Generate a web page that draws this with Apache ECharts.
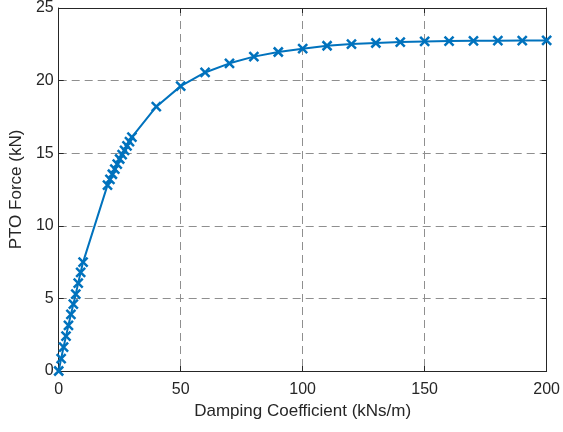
<!DOCTYPE html>
<html>
<head>
<meta charset="utf-8">
<script src="https://cdn.jsdelivr.net/npm/echarts@6/dist/echarts.min.js"></script>
<style>
html, body { margin: 0; padding: 0; background: #fff; }
#chart { width: 563px; height: 432px; }
</style>
</head>
<body>
<div id="chart"></div>
<script>
// damping coefficient (kNs/m)
const damping = [
    0, 1, 2, 3, 4, 5, 6, 7, 8, 9, 10,
    20, 21, 22, 23, 24, 25, 26, 27, 28, 29, 30,
    40, 50, 60, 70, 80, 90, 100, 110, 120, 130, 140, 150, 160, 170, 180, 190, 200
]
// PTO force (kN)
const ptoForce = [
    0, 0.85, 1.65, 2.4, 3.15, 3.9, 4.6, 5.3, 6.05, 6.8, 7.5,
    12.8, 13.2, 13.55, 13.9, 14.25, 14.6, 14.9, 15.2, 15.5, 15.8, 16.1,
    18.2, 19.62, 20.56, 21.19, 21.65, 21.97, 22.2, 22.4, 22.52, 22.59, 22.65, 22.7, 22.72, 22.74, 22.75, 22.76, 22.77
]

const COLOR = {
    blue: '#0072BD',
    axis: '#262626',
    grid: '#8f8f8f'
}
const FONT = '"Liberation Sans", Arial, sans-serif'

const chart = echarts.init(document.getElementById('chart'))

const axisCommon = {
    type: 'value',
    axisLine: { show: true, onZero: false, lineStyle: { color: COLOR.axis, width: 1 } },
    axisTick: { show: true, inside: true, length: 5, lineStyle: { color: COLOR.axis } },
    axisLabel: { color: COLOR.axis, fontSize: 16, fontFamily: FONT },
    splitLine: { show: true, lineStyle: { color: COLOR.grid, type: [8, 5], width: 1 } },
    nameLocation: 'middle',
    nameTextStyle: { color: COLOR.axis, fontSize: 17, fontFamily: FONT }
}

const option = {
    animation: false,
    grid: { left: 57, right: 15, top: 8, bottom: 61, containLabel: false },
    xAxis: [
        Object.assign({}, axisCommon, {
            min: 0, max: 200, interval: 50,
            name: 'Damping Coefficient (kNs/m)',
            nameGap: 31,
            axisLabel: Object.assign({}, axisCommon.axisLabel, { margin: 11 })
        }),
        // box top edge
        { type: 'value', position: 'top', min: 0, max: 200, interval: 50,
          axisLine: { show: true, onZero: false, lineStyle: { color: COLOR.axis } },
          axisTick: { show: true, inside: true, length: 5, lineStyle: { color: COLOR.axis } },
          axisLabel: { show: false }, splitLine: { show: false } }
    ],
    yAxis: [
        Object.assign({}, axisCommon, {
            min: 0, max: 25, interval: 5,
            name: 'PTO Force (kN)',
            nameGap: 32,
            axisLabel: Object.assign({}, axisCommon.axisLabel, { margin: 5 })
        }),
        // box right edge
        { type: 'value', position: 'right', min: 0, max: 25, interval: 5,
          axisLine: { show: true, onZero: false, lineStyle: { color: COLOR.axis } },
          axisTick: { show: true, inside: true, length: 5, lineStyle: { color: COLOR.axis } },
          axisLabel: { show: false }, splitLine: { show: false } }
    ],
    series: [{
        type: 'line',
        data: damping.map((d, i) => [d, ptoForce[i]]),
        lineStyle: { color: COLOR.blue, width: 2 },
        symbol: 'path://M0,0L10,10M10,0L0,10',
        symbolSize: 9,
        showAllSymbol: true,
        itemStyle: { color: 'none', borderColor: COLOR.blue, borderWidth: 2.5 },
        clip: false,
        z: 5
    }]
}

chart.setOption(option)
</script>
</body>
</html>
